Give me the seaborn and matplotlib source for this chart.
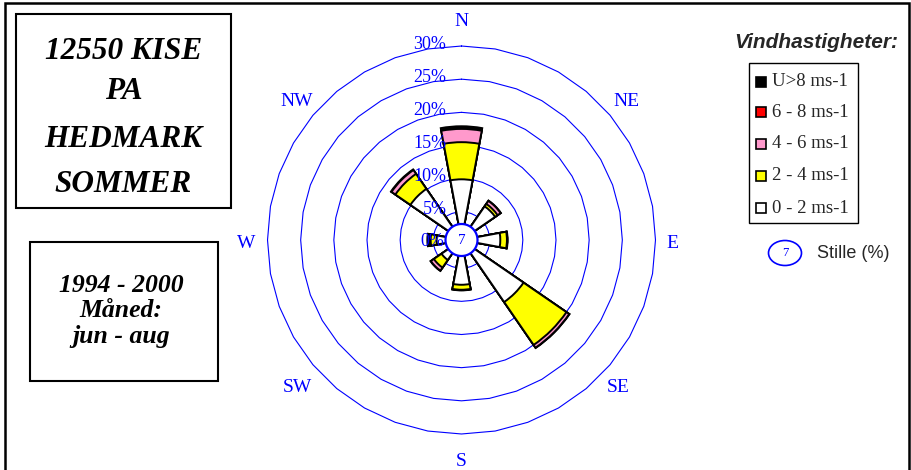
import numpy as np
import pandas as pd
import matplotlib
matplotlib.use("Agg")
import matplotlib.pyplot as plt
from matplotlib.patches import Rectangle, Ellipse
import seaborn as sns

# ---------------- data ----------------
directions = ["N", "NE", "E", "SE", "S", "SW", "W", "NW"]
dir_angles = [0, 45, 90, 135, 180, 225, 270, 315]
speed_classes = ["0 - 2 ms-1", "2 - 4 ms-1", "4 - 6 ms-1", "6 - 8 ms-1", "U>8 ms-1"]
freq_0_2 = [9.9, 6.9, 6.6, 12.1, 7.5, 4.4, 4.5, 10.1]
freq_2_4 = [5.6, 0.45, 1.0, 7.85, 0.75, 1.4, 0.9, 2.75]
freq_4_6 = [2.0, 0.55, 0.05, 0.5, 0.05, 0.55, 0.1, 0.7]
freq_6_8 = [0.1, 0.0, 0.0, 0.0, 0.0, 0.0, 0.1, 0.0]
freq_gt8 = [0.3, 0.05, 0.05, 0.05, 0.05, 0.05, 0.3, 0.1]
calm_pct = 7
ring_values = [0, 5, 10, 15, 20, 25, 30]
title_lines = ["12550 KISE", "PA", "HEDMARK", "SOMMER"]
period_lines = ["1994 - 2000", "Måned:", "jun - aug"]
legend_title = "Vindhastigheter:"
calm_label = "Stille (%)"

class_colors = ["#FFFFFF", "#FFFF00", "#FF99CC", "#FF0000", "#000000"]
BLUE = "#0000FF"

W_PX, H_PX = 912, 470
sns.set_theme(style="white")
plt.rcParams["font.family"] = ["Liberation Serif", "DejaVu Serif"]

fig = plt.figure(figsize=(W_PX / 100, H_PX / 100), dpi=100)
fig.patch.set_facecolor("white")

def fx(x):
    return x / W_PX

def fy(y):
    return 1 - y / H_PX

# polar axes geometry (pixels)
cx, cy = 461.5, 240.0
rmin, rmax = 0.75, 34.0
px_per_pct = 6.632
rad_px = (rmax - rmin) * px_per_pct
ax = fig.add_axes([fx(cx - rad_px), 1 - (cy + rad_px) / H_PX, 2 * rad_px / W_PX, 2 * rad_px / H_PX],
                  projection="polar")
ax.set_theta_zero_location("N")
ax.set_theta_direction(-1)
ax.set_facecolor("none")

# rings (36-sided polygons)
ring_theta = np.deg2rad(np.arange(0, 361, 10))
for v in ring_values[1:]:
    ax.plot(ring_theta, np.full_like(ring_theta, v), color=BLUE, lw=0.8, zorder=1)

# stacked bars drawn from outermost cumulative inward
classes = [freq_0_2, freq_2_4, freq_4_6, freq_6_8, freq_gt8]
cum = np.cumsum(np.array(classes), axis=0)
theta = np.deg2rad(dir_angles)
for i in range(len(classes) - 1, -1, -1):
    df = pd.DataFrame({"theta": theta, "r": cum[i] - rmin})
    sns.barplot(data=df, x="theta", y="r", native_scale=True, ax=ax,
                width=21 / 45, bottom=rmin, color=class_colors[i], saturation=1,
                edgecolor="black", linewidth=1.4, errorbar=None, zorder=2)

# calm circle
calm_r = rmin + 16 / px_per_pct
ct = np.linspace(0, 2 * np.pi, 361)
ax.fill(ct, np.full_like(ct, calm_r), facecolor="white", edgecolor=BLUE, lw=1.6, zorder=4)
ax.text(0, rmin, str(calm_pct), color=BLUE, fontsize=11, ha="center", va="center", zorder=5)

ax.set_ylim(rmin, rmax)
ax.set_xticks([])
ax.set_yticks([])
ax.grid(False)
ax.spines["polar"].set_visible(False)
ax.set_xlabel("")
ax.set_ylabel("")

# ring labels
for v in ring_values:
    if v == 0:
        ax.annotate("0%", xy=(0, rmin), xytext=(-17, -1), textcoords="offset pixels",
                    ha="right", va="center", color=BLUE, fontsize=13, zorder=6)
    else:
        ax.annotate(f"{v}%", xy=(0, v), xytext=(-15, 2), textcoords="offset pixels",
                    ha="right", va="center", color=BLUE, fontsize=13, zorder=6)

# direction labels
dir_pos = {"N": (461.5, 22), "NE": (626, 102), "E": (672, 243), "SE": (618, 387),
           "S": (461.5, 461), "SW": (297, 387), "W": (246, 243), "NW": (296.5, 102)}
for d in directions:
    x, y = dir_pos[d]
    fig.text(fx(x), fy(y), d, color=BLUE, fontsize=14, ha="center", va="center")

# outer frame
fig.add_artist(Rectangle((fx(5), fy(475)), fx(904), 472 / H_PX, transform=fig.transFigure,
                         fill=False, edgecolor="black", lw=1.8))

# title box
fig.add_artist(Rectangle((fx(16), fy(208)), fx(215), 194 / H_PX, transform=fig.transFigure,
                         fill=False, edgecolor="black", lw=1.5))
for txt, yb in zip(title_lines, [59, 99, 147, 192]):
    fig.text(fx(123.5), fy(yb), txt, fontsize=22.5, fontweight="bold", style="italic",
             ha="center", va="baseline", color="black")

# period box
fig.add_artist(Rectangle((fx(30), fy(381)), fx(188), 139 / H_PX, transform=fig.transFigure,
                         fill=False, edgecolor="black", lw=1.5))
for txt, yb in zip(period_lines, [291.5, 317, 343]):
    fig.text(fx(121), fy(yb), txt, fontsize=18.5, fontweight="bold", style="italic",
             ha="center", va="baseline", color="black")

# legend
fig.text(fx(816), fy(43), legend_title, fontsize=15, fontweight="bold", style="italic",
         family=["Liberation Sans", "DejaVu Sans"], ha="center", va="center")
fig.add_artist(Rectangle((fx(749), fy(223)), fx(109), 160 / H_PX, transform=fig.transFigure,
                         fill=False, edgecolor="black", lw=1.0))
leg_y = [208.3, 175.7, 144, 112.3, 81.7]
for i, lab in enumerate(speed_classes):
    y = leg_y[i]
    fig.add_artist(Rectangle((fx(756), fy(y + 5)), fx(10), 10 / H_PX, transform=fig.transFigure,
                             facecolor=class_colors[i], edgecolor="black", lw=1.2))
    fig.text(fx(772), fy(y), lab, fontsize=13.5, ha="left", va="center")

# calm legend
fig.add_artist(Ellipse((fx(785), fy(253)), fx(33), 25 / H_PX, transform=fig.transFigure,
                       facecolor="white", edgecolor=BLUE, lw=1.2))
fig.text(fx(785), fy(253), str(calm_pct), color=BLUE, fontsize=9, ha="center", va="center")
fig.text(fx(817), fy(253), calm_label, fontsize=13, family=["Liberation Sans", "DejaVu Sans"],
         ha="left", va="center")

fig.savefig("out.png", dpi=100, facecolor="white")
